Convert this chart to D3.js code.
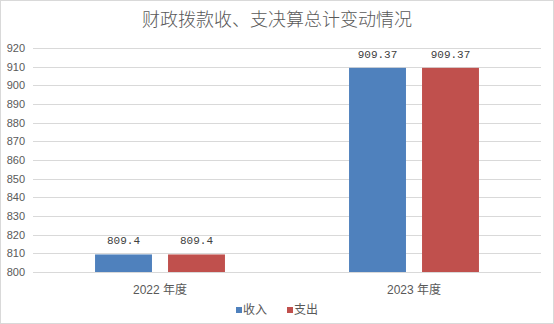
<!DOCTYPE html>
<html>
<head>
<meta charset="utf-8">
<script src="https://cdn.jsdelivr.net/npm/d3@7"></script>
<style>
  html, body { margin: 0; padding: 0; background: #fff; }
  svg { display: block; }
</style>
</head>
<body>
<svg id="chart" width="554" height="324"></svg>
<script>
// Chart data
const title = "财政拨款收、支决算总计变动情况";
const categories = ["2022 年度", "2023 年度"];
const seriesNames = ["收入", "支出"];
const income = [809.4, 909.37];
const expense = [809.4, 909.37];
const yTicks = [800, 810, 820, 830, 840, 850, 860, 870, 880, 890, 900, 910, 920];
const colors = ["#4f81bd", "#c0504d"];

const W = 554, H = 324;
const margin = { top: 48, right: 13, bottom: 52, left: 33 };
const svg = d3.select("#chart");

// Outer border
svg.append("rect")
  .attr("x", 0.5).attr("y", 0.5)
  .attr("width", W - 1).attr("height", H - 1)
  .attr("fill", "#fff").attr("stroke", "#d9d9d9");

// Title
svg.append("text")
  .attr("x", 277).attr("y", 26)
  .attr("text-anchor", "middle")
  .attr("font-family", "'Noto Sans CJK SC', sans-serif")
  .attr("font-weight", 300)
  .attr("font-size", 18)
  .attr("fill", "#595959")
  .text(title);

const x0 = d3.scaleBand()
  .domain(categories)
  .range([margin.left, W - margin.right])
  .paddingInner(0).paddingOuter(0);

const x1 = d3.scaleBand()
  .domain(seriesNames)
  .range([0, x0.bandwidth()])
  .paddingInner(0.22)
  .paddingOuter(0.85);

const y = d3.scaleLinear()
  .domain([800, 920])
  .range([H - margin.bottom, margin.top]);

// Gridlines
svg.append("g")
  .selectAll("line")
  .data(yTicks)
  .join("line")
  .attr("x1", margin.left).attr("x2", W - margin.right)
  .attr("y1", d => Math.round(y(d)) + 0.5)
  .attr("y2", d => Math.round(y(d)) + 0.5)
  .attr("stroke", "#d9d9d9").attr("stroke-width", 1);

// Y axis labels
const yAxis = d3.axisLeft(y).tickValues(yTicks).tickSize(0).tickPadding(8);
const gy = svg.append("g")
  .attr("transform", `translate(${margin.left},0)`)
  .call(yAxis);
gy.select(".domain").remove();
gy.selectAll("text")
  .attr("font-family", "'Liberation Sans', Arial, sans-serif")
  .attr("font-size", 11)
  .attr("fill", "#595959");

// Bars
const rows = categories.map((c, i) => ({ cat: c, vals: [income[i], expense[i]] }));
const groups = svg.append("g")
  .selectAll("g")
  .data(rows)
  .join("g")
  .attr("transform", d => `translate(${x0(d.cat)},0)`);

groups.selectAll("rect")
  .data(d => d.vals.map((v, j) => ({ name: seriesNames[j], v, j })))
  .join("rect")
  .attr("x", d => x1(d.name))
  .attr("width", x1.bandwidth())
  .attr("y", d => y(d.v))
  .attr("height", d => y(800) - y(d.v))
  .attr("fill", d => colors[d.j]);

// Value labels
groups.selectAll("text")
  .data(d => d.vals.map((v, j) => ({ name: seriesNames[j], v, j })))
  .join("text")
  .attr("x", d => x1(d.name) + x1.bandwidth() / 2)
  .attr("y", d => y(d.v) - 10)
  .attr("text-anchor", "middle")
  .attr("font-family", "'Liberation Mono', 'DejaVu Sans Mono', monospace")
  .attr("font-size", 11)
  .attr("fill", "#404040")
  .text(d => d.v);

// Category labels
const gx = svg.append("g")
  .attr("transform", `translate(0,${H - margin.bottom})`)
  .call(d3.axisBottom(x0).tickSize(0).tickPadding(13));
gx.select(".domain").remove();
gx.selectAll("text")
  .attr("font-family", "'Liberation Sans', 'Noto Sans CJK SC', sans-serif")
  .attr("font-size", 12)
  .attr("fill", "#595959");

// Legend
const legend = svg.append("g");
const legendX = [236, 287];
seriesNames.forEach((n, i) => {
  legend.append("rect")
    .attr("x", legendX[i]).attr("y", 307)
    .attr("width", 6).attr("height", 6)
    .attr("fill", colors[i]);
  legend.append("text")
    .attr("x", legendX[i] + 7).attr("y", 314)
    .attr("font-family", "'Noto Sans CJK SC', sans-serif")
    .attr("font-size", 12)
    .attr("fill", "#595959")
    .text(n);
});
</script>
</body>
</html>
